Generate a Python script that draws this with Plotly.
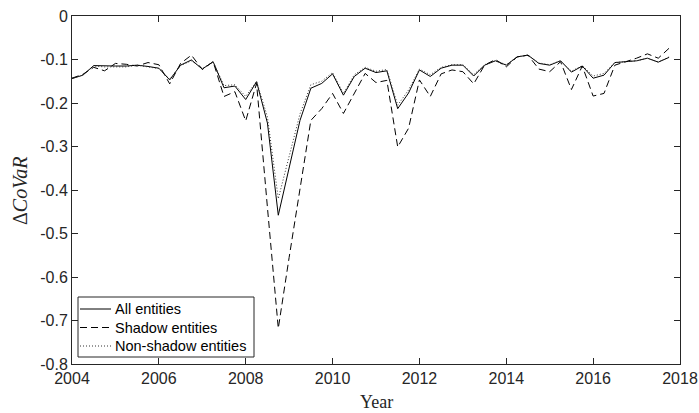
import plotly.graph_objects as go

# Quarterly observations, 2004Q1 .. 2017Q4
years = [2004 + 0.25 * i for i in range(56)]

all_entities = [
    -0.144, -0.136, -0.114, -0.115, -0.115, -0.115, -0.113, -0.116,
    -0.120, -0.147, -0.113, -0.101, -0.122, -0.105, -0.165, -0.161,
    -0.192, -0.151, -0.246, -0.458, -0.350, -0.240, -0.166, -0.155,
    -0.133, -0.182, -0.139, -0.120, -0.130, -0.126, -0.213, -0.177,
    -0.124, -0.139, -0.120, -0.113, -0.113, -0.138, -0.113, -0.103,
    -0.113, -0.094, -0.090, -0.109, -0.113, -0.103, -0.129, -0.115,
    -0.143, -0.136, -0.107, -0.105, -0.103, -0.097, -0.106, -0.095,
]

shadow_entities = [
    -0.143, -0.134, -0.118, -0.126, -0.109, -0.111, -0.115, -0.107,
    -0.112, -0.156, -0.109, -0.090, -0.123, -0.105, -0.185, -0.174,
    -0.241, -0.155, -0.440, -0.718, -0.555, -0.395, -0.240, -0.213,
    -0.178, -0.224, -0.178, -0.132, -0.153, -0.148, -0.301, -0.258,
    -0.147, -0.185, -0.133, -0.124, -0.128, -0.156, -0.113, -0.100,
    -0.117, -0.094, -0.090, -0.122, -0.128, -0.105, -0.169, -0.115,
    -0.184, -0.178, -0.113, -0.105, -0.097, -0.087, -0.097, -0.074,
]

non_shadow_entities = [
    -0.143, -0.136, -0.115, -0.117, -0.117, -0.117, -0.113, -0.117,
    -0.121, -0.145, -0.114, -0.103, -0.121, -0.105, -0.160, -0.158,
    -0.185, -0.150, -0.232, -0.420, -0.320, -0.225, -0.158, -0.150,
    -0.130, -0.178, -0.135, -0.118, -0.127, -0.123, -0.205, -0.170,
    -0.122, -0.135, -0.118, -0.112, -0.112, -0.135, -0.112, -0.103,
    -0.112, -0.094, -0.090, -0.108, -0.112, -0.103, -0.127, -0.114,
    -0.138, -0.132, -0.107, -0.105, -0.103, -0.097, -0.106, -0.094,
]

series_names = ["All entities", "Shadow entities", "Non-shadow entities"]

x_ticks = [2004, 2006, 2008, 2010, 2012, 2014, 2016, 2018]
x_tick_labels = ["2004", "2006", "2008", "2010", "2012", "2014", "2016", "2018"]
y_ticks = [0, -0.1, -0.2, -0.3, -0.4, -0.5, -0.6, -0.7, -0.8]
y_tick_labels = ["0", "-0.1", "-0.2", "-0.3", "-0.4", "-0.5", "-0.6", "-0.7", "-0.8"]

AX = "#262626"
W, H = 699, 413
ML, MR, MT, MB = 72, 19, 16, 49
PW, PH = W - ML - MR, H - MT - MB

styles = [
    dict(color="black", width=1),
    dict(color="black", width=1, dash="7px,4px"),
    dict(color="#333333", width=1, dash="1px,2px"),
]

fig = go.Figure()
for name, vals, st in zip(series_names, [all_entities, shadow_entities, non_shadow_entities], styles):
    fig.add_trace(go.Scatter(x=years, y=vals, mode="lines", name=name, line=st,
                             showlegend=False))

axis_common = dict(
    showline=True, linecolor=AX, linewidth=1, mirror="ticks",
    ticks="inside", ticklen=6, tickcolor=AX, tickwidth=1,
    showgrid=False, zeroline=False, automargin=False,
    tickfont=dict(family="Liberation Sans, Arial, sans-serif", size=16, color=AX),
)

fig.update_xaxes(range=[2004, 2018], tickvals=x_ticks, ticktext=x_tick_labels, **axis_common)
fig.update_yaxes(range=[-0.8, 0], tickvals=y_ticks, ticktext=y_tick_labels, **axis_common)


def px_x(p):
    return (p - ML) / PW


def px_y(p):
    return (H - MB - p) / PH


# Manual legend box (pixel layout of the reference)
shapes = [dict(type="rect", xref="paper", yref="paper",
               x0=px_x(78), x1=px_x(254), y0=px_y(357), y1=px_y(297),
               line=dict(color=AX, width=1), fillcolor="white", layer="above")]
annotations = []
rows = [309, 327.5, 346]
for name, st, ry in zip(series_names, styles, rows):
    shapes.append(dict(type="line", xref="paper", yref="paper",
                       x0=px_x(80), x1=px_x(111), y0=px_y(ry), y1=px_y(ry),
                       line=st, layer="above"))
    annotations.append(dict(text=name, xref="paper", yref="paper", x=px_x(113), y=px_y(ry),
                            xanchor="left", yanchor="middle", showarrow=False,
                            font=dict(family="Liberation Sans, Arial, sans-serif", size=14.5,
                                      color="black")))

annotations += [
    dict(text="Year", xref="paper", yref="paper", x=0.5, y=px_y(402),
         xanchor="center", yanchor="middle", showarrow=False,
         font=dict(family="Liberation Serif, Times New Roman, serif", size=18, color=AX)),
    dict(text="Δ<i>CoVaR</i>", xref="paper", yref="paper", x=px_x(20), y=px_y(191),
         xanchor="center", yanchor="middle", showarrow=False, textangle=-90,
         font=dict(family="Liberation Serif, Times New Roman, serif", size=20, color=AX)),
]

fig.update_layout(
    width=W, height=H,
    margin=dict(l=ML, r=MR, t=MT, b=MB, autoexpand=False),
    paper_bgcolor="white", plot_bgcolor="white",
    showlegend=False,
    shapes=shapes,
    annotations=annotations,
)

fig.write_html("out.html", config={"responsive": False, "displayModeBar": False},
               post_script="document.body.style.margin='0';document.body.style.padding='0';")
